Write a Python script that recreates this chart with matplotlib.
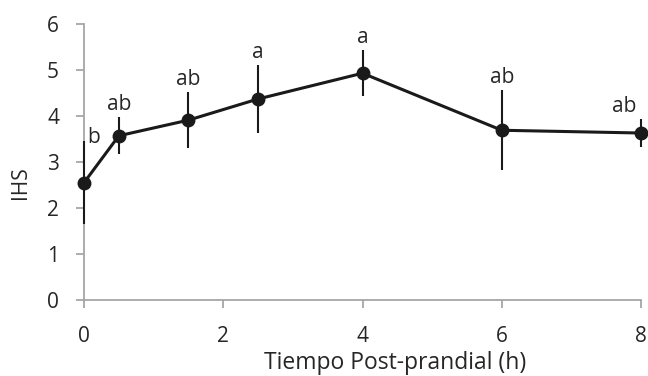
import matplotlib.pyplot as plt

# IHS over the post-prandial period (mean, error and significance letters)
tiempo = [0, 0.5, 1.5, 2.5, 4, 6, 8]
ihs = [2.55, 3.57, 3.91, 4.37, 4.93, 3.69, 3.63]
error = [0.90, 0.40, 0.61, 0.74, 0.50, 0.87, 0.31]
letras = ['b', 'ab', 'ab', 'a', 'a', 'ab', 'ab']

plt.rcParams['font.family'] = ['Open Sans', 'DejaVu Sans']
txt = '#262626'

fig = plt.figure(figsize=(6.48, 3.76), dpi=100)
ax = fig.add_axes([84 / 648, 1 - 300 / 376, (641 - 84) / 648, (300 - 24) / 376])

ax.errorbar(tiempo, ihs, yerr=error, color='#1a1a1a', ecolor='#1a1a1a',
            lw=2.2, elinewidth=1.5, capsize=0, marker='o', ms=9,
            clip_on=False, zorder=3)

# letter offsets in points; first and last sit beside their bars
offsets = [(7, -1.5)] + [(0, 5)] * 5 + [(-12, 5)]
for x, y, e, t, off in zip(tiempo, ihs, error, letras, offsets):
    ax.annotate(t, (x, y + e), xytext=off, textcoords='offset points',
                ha='center', va='baseline', fontsize=15, color=txt)

ax.set_xlim(0, 8)
ax.set_ylim(0, 6)
ax.set_xticks([0, 2, 4, 6, 8])
ax.set_yticks(range(0, 7))

for s in ['top', 'right']:
    ax.spines[s].set_visible(False)
for s in ['left', 'bottom']:
    ax.spines[s].set_color('#a6a6a6')
    ax.spines[s].set_linewidth(1.3)

ax.tick_params(axis='both', colors='#a6a6a6', length=6, width=1.3,
               labelsize=15, labelcolor=txt)
ax.tick_params(axis='x', pad=13)
ax.tick_params(axis='y', pad=12)

fig.text(395 / 648, 7 / 376, 'Tiempo Post-prandial (h)', ha='center',
         va='baseline', fontsize=16.5, color=txt)
fig.text(21 / 648, 1 - 183 / 376, 'IHS', rotation=90, ha='center',
         va='center', fontsize=15, color=txt)

fig.savefig('out.png', dpi=100)
